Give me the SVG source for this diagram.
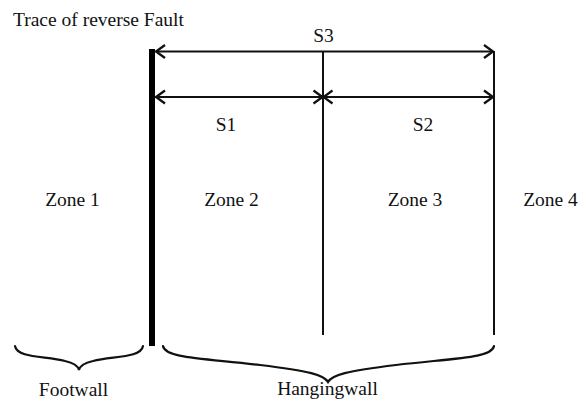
<svg xmlns="http://www.w3.org/2000/svg" width="586" height="401" viewBox="0 0 586 401">
<style>
text{font-family:"Liberation Serif","Times New Roman",serif;font-size:19.5px;fill:#111;}
.c{text-anchor:middle;}
.ln{stroke:#111;stroke-width:2;fill:none;}
.br{stroke:#111;stroke-width:2.2;fill:none;stroke-linecap:round;}
</style>
<defs>
<marker id="ah" viewBox="-12 -8 14 16" refX="0" refY="0" markerWidth="14" markerHeight="16" markerUnits="userSpaceOnUse" orient="auto-start-reverse">
<path d="M-9,-6.5 L0,0 L-9,6.5" fill="none" stroke="#111" stroke-width="2.3"/>
</marker>
</defs>
<rect width="586" height="401" fill="#fff"/>
<g id="title"><text x="13" y="26">Trace of reverse Fault</text></g>
<g id="fault"><line x1="152" y1="49" x2="152" y2="346" stroke="#000" stroke-width="6"/></g>
<g id="boundaries">
<line class="ln" x1="323" y1="51" x2="323" y2="335"/>
<line class="ln" x1="494" y1="51" x2="494" y2="335"/>
</g>
<g id="connectors">
<line class="ln" x1="156" y1="51.5" x2="493" y2="51.5" marker-start="url(#ah)" marker-end="url(#ah)"/>
<line class="ln" x1="156" y1="97" x2="322.5" y2="97" marker-start="url(#ah)" marker-end="url(#ah)"/>
<line class="ln" x1="323.5" y1="97" x2="493" y2="97" marker-start="url(#ah)" marker-end="url(#ah)"/>
</g>
<g id="s3"><text class="c" x="323.5" y="42">S3</text></g>
<g id="s1"><text class="c" x="226" y="131">S1</text></g>
<g id="s2"><text class="c" x="423" y="131">S2</text></g>
<g id="zone1"><text class="c" x="72.5" y="206">Zone 1</text></g>
<g id="zone2"><text class="c" x="231.5" y="206">Zone 2</text></g>
<g id="zone3"><text class="c" x="415" y="206">Zone 3</text></g>
<g id="zone4"><text class="c" x="550.5" y="206">Zone 4</text></g>
<g id="footwall">
<path class="br" d="M15,346 C17,358 45,356 65,361 C74,363 78,366 79,370 C80,366 84,363 93,361 C113,356 141,358 143,346"/>
<text class="c" x="73.5" y="396">Footwall</text>
</g>
<g id="hangingwall">
<path class="br" d="M163,346 C165,358 200,358 260,365 C310,371 324,375 328,382 C332,375 346,371 396,365 C456,358 492,358 494,346"/>
<text class="c" x="327.5" y="395">Hangingwall</text>
</g>
</svg>
